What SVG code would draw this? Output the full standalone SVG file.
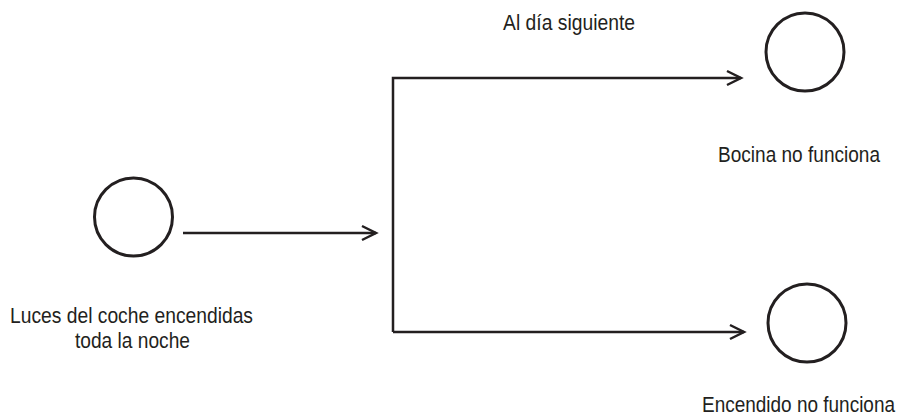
<svg xmlns="http://www.w3.org/2000/svg" width="900" height="418" viewBox="0 0 900 418">
<defs>
<style>
.node{fill:none;stroke:#231f20;stroke-width:3}
.conn{fill:none;stroke:#231f20;stroke-width:2.5}
.lbl{font-family:"Liberation Sans",Arial,sans-serif;font-size:22px;fill:#231f20}
</style>
<marker id="arr" markerWidth="20" markerHeight="20" refX="15" refY="8" orient="auto" markerUnits="userSpaceOnUse" viewBox="0 0 20 16">
<path d="M1,1 L15,8 L1,15" fill="none" stroke="#231f20" stroke-width="2.5"/>
</marker>
</defs>
<rect width="900" height="418" fill="#fff"/>
<g id="connectors">
<path class="conn" d="M183,233 H376" marker-end="url(#arr)"/>
<path class="conn" d="M393,332 V78 H741" marker-end="url(#arr)"/>
<path class="conn" d="M393,332 H744" marker-end="url(#arr)"/>
<text class="lbl" x="503" y="30" textLength="132" lengthAdjust="spacingAndGlyphs">Al día siguiente</text>
</g>
<g id="luces">
<circle class="node" cx="133.5" cy="217" r="39"/>
<text class="lbl" x="10" y="323" textLength="243" lengthAdjust="spacingAndGlyphs">Luces del coche encendidas</text>
<text class="lbl" x="75" y="348" textLength="115" lengthAdjust="spacingAndGlyphs">toda la noche</text>
</g>
<g id="bocina">
<circle class="node" cx="805" cy="52" r="39"/>
<text class="lbl" x="718" y="162" textLength="162" lengthAdjust="spacingAndGlyphs">Bocina no funciona</text>
</g>
<g id="encendido">
<circle class="node" cx="807" cy="323" r="39"/>
<text class="lbl" x="702" y="412" textLength="193" lengthAdjust="spacingAndGlyphs">Encendido no funciona</text>
</g>
</svg>
